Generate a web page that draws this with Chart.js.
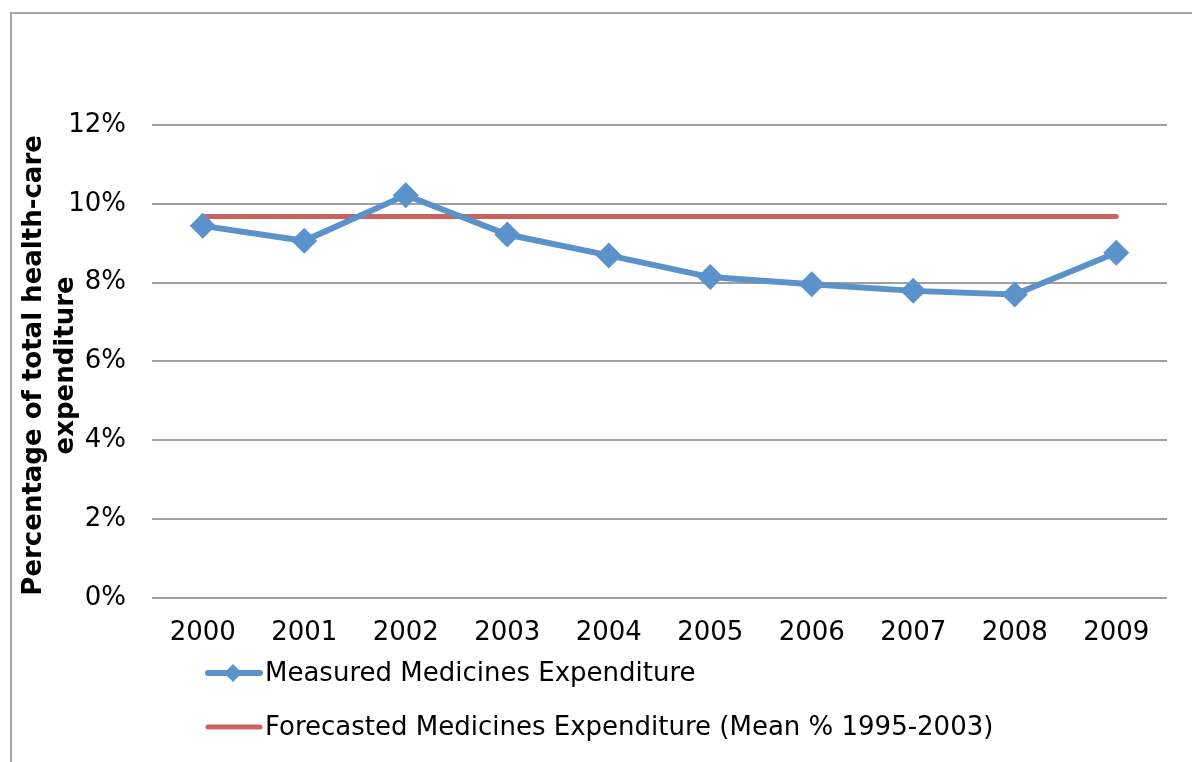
<!DOCTYPE html>
<html lang="en">
<head>
    <meta charset="UTF-8">
    <title>Medicines expenditure</title>
    <script src="https://cdn.jsdelivr.net/npm/chart.js"></script>
    <style>
        html, body { margin: 0; padding: 0; background: #fff; overflow: hidden; }
        .frame {
            position: absolute; left: 10px; top: 12px;
            width: 1200px; height: 780px;
            border: 2px solid #a6a6a6;
        }
        .wrap { position: absolute; left: 0; top: 0; width: 1192px; height: 762px; }
    </style>
</head>
<body>
    <div class="frame"></div>
    <div class="wrap">
        <canvas id="chart" width="1192" height="762"></canvas>
    </div>

    <script>
        // data
        const years = ['2000', '2001', '2002', '2003', '2004', '2005', '2006', '2007', '2008', '2009'];
        const measured = [9.44, 9.06, 10.22, 9.22, 8.69, 8.14, 7.96, 7.79, 7.70, 8.76];
        const forecast = [9.68, 9.68, 9.68, 9.68, 9.68, 9.68, 9.68, 9.68, 9.68, 9.68];
        const yTicks = [0, 2, 4, 6, 8, 10, 12];
        const yTitle = ['Percentage of total health-care', 'expenditure'];
        const seriesNames = ['Measured Medicines Expenditure', 'Forecasted Medicines Expenditure (Mean % 1995-2003)'];

        const BLUE = '#5b92c9';
        const RED = '#cc625d';
        const FONT = '"DejaVu Sans", Verdana, sans-serif';

        // y title + legend drawn by hand so they sit like the original
        const extras = {
            id: 'extras',
            afterDraw(chart) {
                const c = chart.ctx;
                const area = chart.chartArea;
                c.save();
                c.fillStyle = '#000';
                c.font = 'bold 26px ' + FONT;
                c.textAlign = 'center';
                c.textBaseline = 'middle';
                const midY = (area.top + area.bottom) / 2 + 4;
                c.translate(0, midY);
                c.rotate(-Math.PI / 2);
                c.fillText(yTitle[0], 0, 34);
                c.fillText(yTitle[1], 0, 66);
                c.restore();

                // legend
                const rows = [673, 727];
                chart.data.datasets.forEach((ds, i) => {
                    const y = rows[i];
                    c.save();
                    c.strokeStyle = ds.borderColor;
                    c.lineWidth = ds.borderWidth;
                    c.lineCap = 'round';
                    c.beginPath();
                    c.moveTo(208, y);
                    c.lineTo(260, y);
                    c.stroke();
                    if (ds.pointRadius > 0) {
                        c.fillStyle = ds.backgroundColor;
                        c.beginPath();
                        c.moveTo(233, y - 9);
                        c.lineTo(242, y);
                        c.lineTo(233, y + 9);
                        c.lineTo(224, y);
                        c.closePath();
                        c.fill();
                    }
                    c.fillStyle = '#000';
                    c.font = '26px ' + FONT;
                    c.textAlign = 'left';
                    c.textBaseline = 'middle';
                    c.fillText(ds.label, 265, y + 1);
                    c.restore();
                });
            }
        };

        new Chart(document.getElementById('chart'), {
            type: 'line',
            data: {
                labels: years,
                datasets: [
                    {
                        label: seriesNames[0],
                        data: measured,
                        borderColor: BLUE,
                        backgroundColor: BLUE,
                        borderWidth: 6,
                        pointStyle: 'rectRot',
                        pointRadius: 13,
                        pointBorderWidth: 0,
                        tension: 0
                    },
                    {
                        label: seriesNames[1],
                        data: forecast,
                        borderColor: RED,
                        backgroundColor: RED,
                        borderWidth: 5,
                        borderCapStyle: 'round',
                        pointRadius: 0,
                        tension: 0
                    }
                ]
            },
            options: {
                responsive: false,
                animation: false,
                layout: { padding: { left: 0, right: 25, top: 125, bottom: 93 } },
                plugins: {
                    legend: { display: false },
                    tooltip: { enabled: false }
                },
                scales: {
                    x: {
                        offset: true,
                        grid: { display: false, drawTicks: false },
                        border: { display: false },
                        ticks: { color: '#000', font: { family: FONT, size: 26 }, padding: 20, maxRotation: 0 }
                    },
                    y: {
                        min: yTicks[0],
                        max: yTicks[yTicks.length - 1],
                        afterFit(scale) { scale.width = 152; },
                        afterBuildTicks(scale) { scale.ticks = yTicks.map(v => ({ value: v })); },
                        grid: { color: '#a0a0a0', lineWidth: 2, drawTicks: false },
                        border: { display: false },
                        ticks: {
                            color: '#000',
                            font: { family: FONT, size: 26 },
                            padding: 26,
                            callback: v => v + '%'
                        }
                    }
                }
            },
            plugins: [extras]
        });
    </script>
</body>
</html>
